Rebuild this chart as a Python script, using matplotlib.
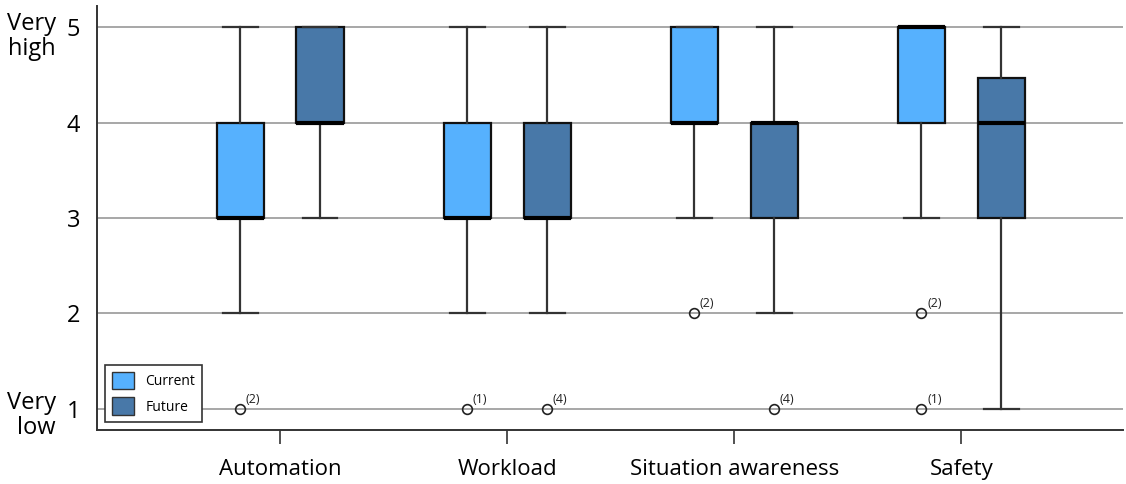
import numpy as np
import matplotlib
matplotlib.use('Agg')
import matplotlib.pyplot as plt
from matplotlib.patches import Patch

plt.rcParams['font.family'] = ['Open Sans', 'DejaVu Sans']

# 数据：各类别的箱线图统计量
categories = ['Automation', 'Workload', 'Situation awareness', 'Safety']

cur_q1 = [3, 3, 4, 4]
cur_med = [3, 3, 4, 5]
cur_q3 = [4, 4, 5, 5]
cur_lo = [2, 2, 3, 3]
cur_hi = [5, 5, 5, 5]
cur_fliers = [[1], [1], [2], [2, 1]]
cur_counts = [[2], [1], [2], [2, 1]]

fut_q1 = [4, 3, 3, 3]
fut_med = [4, 3, 4, 4]
fut_q3 = [5, 4, 4, 4.47]
fut_lo = [3, 2, 2, 1]
fut_hi = [5, 5, 5, 5]
fut_fliers = [[], [1], [1], []]
fut_counts = [[], [4], [4], []]

cur_color = '#56b1fe'
fut_color = '#4878a8'


def make_stats(q1, med, q3, lo, hi, fl):
    return [dict(q1=a, med=b, q3=c, whislo=d, whishi=e, fliers=f)
            for a, b, c, d, e, f in zip(q1, med, q3, lo, hi, fl)]


fig = plt.figure(figsize=(11.26, 4.84), dpi=100)
ax = fig.add_axes([0.0861, 0.1116, 0.911, 0.876])

pos = np.arange(1, len(categories) + 1)
off = 0.176
width = 0.207

for stats, p, col, counts in [
        (make_stats(cur_q1, cur_med, cur_q3, cur_lo, cur_hi, cur_fliers), pos - off, cur_color, cur_counts),
        (make_stats(fut_q1, fut_med, fut_q3, fut_lo, fut_hi, fut_fliers), pos + off, fut_color, fut_counts)]:
    ax.bxp(stats, positions=p, widths=width, patch_artist=True,
           boxprops=dict(facecolor=col, edgecolor='#111111', linewidth=1.6),
           medianprops=dict(color='black', linewidth=3),
           whiskerprops=dict(color='#333333', linewidth=1.6),
           capprops=dict(color='#333333', linewidth=1.6),
           capwidths=0.154,
           flierprops=dict(marker='o', markerfacecolor='none', markeredgecolor='#222222',
                           markersize=7, markeredgewidth=1.2),
           zorder=3)
    # 离群点旁边的人数标注
    for x, st, cnt in zip(p, stats, counts):
        for y, n in zip(st['fliers'], cnt):
            ax.annotate('(%d)' % n, (x, y), xytext=(4, 2.5), textcoords='offset points',
                        fontsize=9, color='#222222', ha='left', va='bottom')

ax.set_xlim(0.194, 4.71)
ax.set_ylim(0.78, 5.22)
ax.set_yticks([1, 2, 3, 4, 5])
ax.set_xticks(pos)
ax.set_xticklabels(categories, fontsize=16)
ax.tick_params(axis='y', length=0, pad=12, labelsize=17)
ax.tick_params(axis='x', length=10, width=1.2, color='#333333', pad=11)
ax.yaxis.grid(True, color='#a0a0a0', linewidth=1.3)
ax.set_axisbelow(True)

for s in ['top', 'right']:
    ax.spines[s].set_visible(False)
for s in ['left', 'bottom']:
    ax.spines[s].set_color('#333333')
    ax.spines[s].set_linewidth(1.4)

# 纵轴两端的文字说明
tr = ax.get_yaxis_transform()
ax.text(-0.04, 4.9, 'Very\nhigh', transform=tr, ha='right', va='center', fontsize=17,
        linespacing=1.05)
ax.text(-0.04, 0.93, 'Very\nlow', transform=tr, ha='right', va='center', fontsize=17,
        linespacing=1.05)

handles = [Patch(facecolor=cur_color, edgecolor='#333333', label='Current'),
           Patch(facecolor=fut_color, edgecolor='#333333', label='Future')]
leg = ax.legend(handles=handles, loc='lower left', bbox_to_anchor=(0.008, 0.019),
                borderaxespad=0, fontsize=10, fancybox=False, edgecolor='#333333',
                framealpha=1, handlelength=1.6, handleheight=1.6, borderpad=0.5,
                labelspacing=0.55, handletextpad=0.8)
leg.get_frame().set_linewidth(1.2)

plt.savefig('out.png', dpi=100)
